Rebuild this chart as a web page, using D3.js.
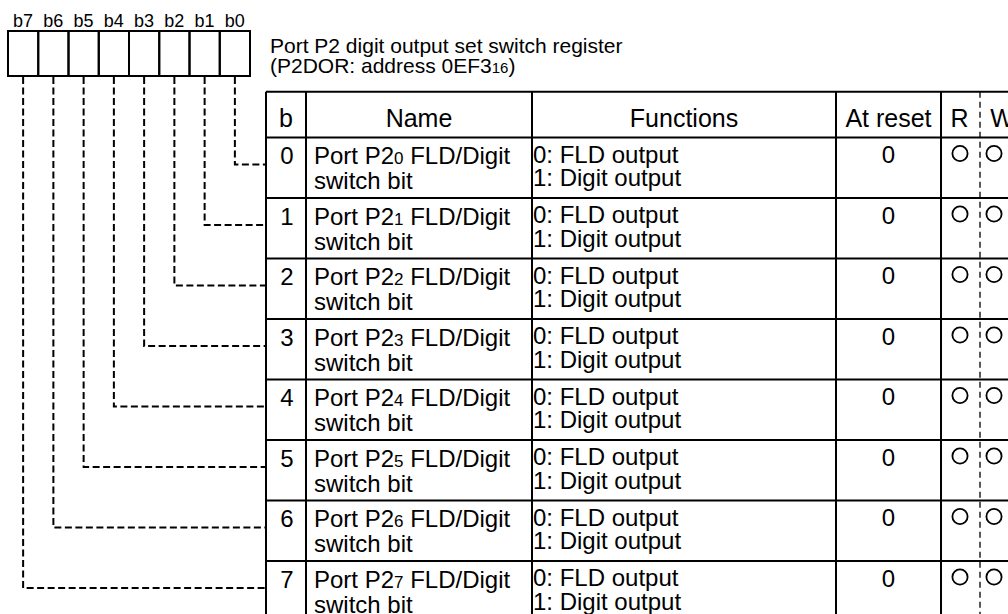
<!DOCTYPE html>
<html><head><meta charset="utf-8">
<script src="https://cdn.jsdelivr.net/npm/d3@7"></script>
<style>
html,body{margin:0;padding:0;background:#fff;}
svg{display:block;font-family:"Liberation Sans",Arial,Helvetica,sans-serif;}
</style></head><body>
<svg id="c" width="1008" height="614"></svg>
<script>
// ---- data ----
const bits = [0,1,2,3,4,5,6,7];
const bitLabels = ["b7","b6","b5","b4","b3","b2","b1","b0"];
const headers = ["b","Name","Functions","At reset","R","W"];
const namePrefix = "Port P2";
const nameSuffix = " FLD/Digit";
const nameLine2 = "switch bit";
const funcLine1 = "0: FLD output";
const funcLine2 = "1: Digit output";
const resetValues = ["0","0","0","0","0","0","0","0"];
const readable = [true,true,true,true,true,true,true,true];
const writable = [true,true,true,true,true,true,true,true];
const titleLine1 = "Port P2 digit output set switch register";
const titleLine2a = "(P2DOR: address 0EF3";
const titleLine2sub = "16";
const titleLine2b = ")";

const svg = d3.select("#c");

// ---- scales ----
const regX = d3.scaleBand().domain(bitLabels).range([8, 250]);
const regTop = 31, regBottom = 76;
const rowY = d3.scaleBand().domain(bits).range([137.5, 137.5 + 8*60.5]);
const headTop = 91.7, headBottom = 137.5;
const colEdges = [266, 306, 532, 836, 941, 980, 1020];
const tableLeft = colEdges[0], tableRight = colEdges[colEdges.length-1];
const black = "#000";

// ---- register box ----
const reg = svg.append("g");
reg.selectAll("text.bl").data(bitLabels).join("text")
  .attr("x", d => regX(d) + regX.bandwidth()/2)
  .attr("y", 26.5)
  .attr("text-anchor","middle")
  .attr("font-size", 18)
  .text(d => d);
reg.selectAll("rect").data(bitLabels).join("rect")
  .attr("x", d => regX(d)).attr("y", regTop)
  .attr("width", regX.bandwidth()).attr("height", regBottom - regTop)
  .attr("fill","none").attr("stroke",black).attr("stroke-width",2);

// ---- connectors ----
const conn = svg.append("g").attr("fill","none").attr("stroke",black)
  .attr("stroke-width",2).attr("stroke-dasharray","7,3.5");
conn.selectAll("path").data(bits).join("path")
  .attr("d", b => {
    const x = regX("b"+b) + regX.bandwidth()/2;
    const y = rowY(b) + 27;
    return `M${x},${regBottom+1}V${y}H${tableLeft}`;
  });

// ---- title ----
svg.append("text").attr("x",270).attr("y",52.5).attr("font-size",21).text(titleLine1);
const t2 = svg.append("text").attr("x",270).attr("y",73).attr("font-size",21);
t2.append("tspan").text(titleLine2a);
t2.append("tspan").attr("font-size",15).text(titleLine2sub);
t2.append("tspan").text(titleLine2b);

// ---- table grid ----
const grid = svg.append("g").attr("stroke",black).attr("stroke-width",2);
const hLines = [headTop, headBottom].concat(bits.map(b => rowY(b) + rowY.bandwidth()));
grid.selectAll("line.h").data(hLines).join("line")
  .attr("x1",tableLeft).attr("x2",tableRight)
  .attr("y1",d=>d).attr("y2",d=>d);
const tableBottom = rowY(7) + rowY.bandwidth();
grid.selectAll("line.v").data(colEdges.filter((d,i)=>i!==5)).join("line")
  .attr("x1",d=>d).attr("x2",d=>d).attr("y1",headTop).attr("y2",tableBottom);
svg.append("line").attr("x1",colEdges[5]).attr("x2",colEdges[5])
  .attr("y1",headTop).attr("y2",tableBottom)
  .attr("stroke",black).attr("stroke-width",1.3).attr("stroke-dasharray","6,4");

// ---- headers ----
svg.selectAll("text.hd").data(headers).join("text")
  .attr("x",(d,i)=> (colEdges[i]+colEdges[i+1])/2 + (i===4?-1:0) + (i===5?2:0))
  .attr("y",126.5).attr("text-anchor","middle").attr("font-size",25)
  .text(d=>d);

// ---- rows ----
const rows = svg.selectAll("g.row").data(bits).join("g")
  .attr("transform", b => `translate(0,${rowY(b)})`);
rows.append("text").attr("x",(colEdges[0]+colEdges[1])/2 + 1).attr("y",26.8)
  .attr("text-anchor","middle").attr("font-size",24).text(b=>b);
const nm = rows.append("text").attr("x",314).attr("y",26.8).attr("font-size",24);
nm.append("tspan").text(namePrefix);
nm.append("tspan").attr("font-size",17).text(b=>b);
nm.append("tspan").text(nameSuffix);
rows.append("text").attr("x",314).attr("y",51.8).attr("font-size",24).text(nameLine2);
rows.append("text").attr("x",533).attr("y",25).attr("font-size",24).text(funcLine1);
rows.append("text").attr("x",533).attr("y",48.5).attr("font-size",24).text(funcLine2);
rows.append("text").attr("x",(colEdges[3]+colEdges[4])/2).attr("y",25.5)
  .attr("text-anchor","middle").attr("font-size",24).text(b=>resetValues[b]);
rows.filter(b=>readable[b]).append("circle")
  .attr("cx",960).attr("cy",16).attr("r",7.6)
  .attr("fill","none").attr("stroke",black).attr("stroke-width",1.8);
rows.filter(b=>writable[b]).append("circle")
  .attr("cx",994).attr("cy",16).attr("r",7.6)
  .attr("fill","none").attr("stroke",black).attr("stroke-width",1.8);
</script>
</body></html>
